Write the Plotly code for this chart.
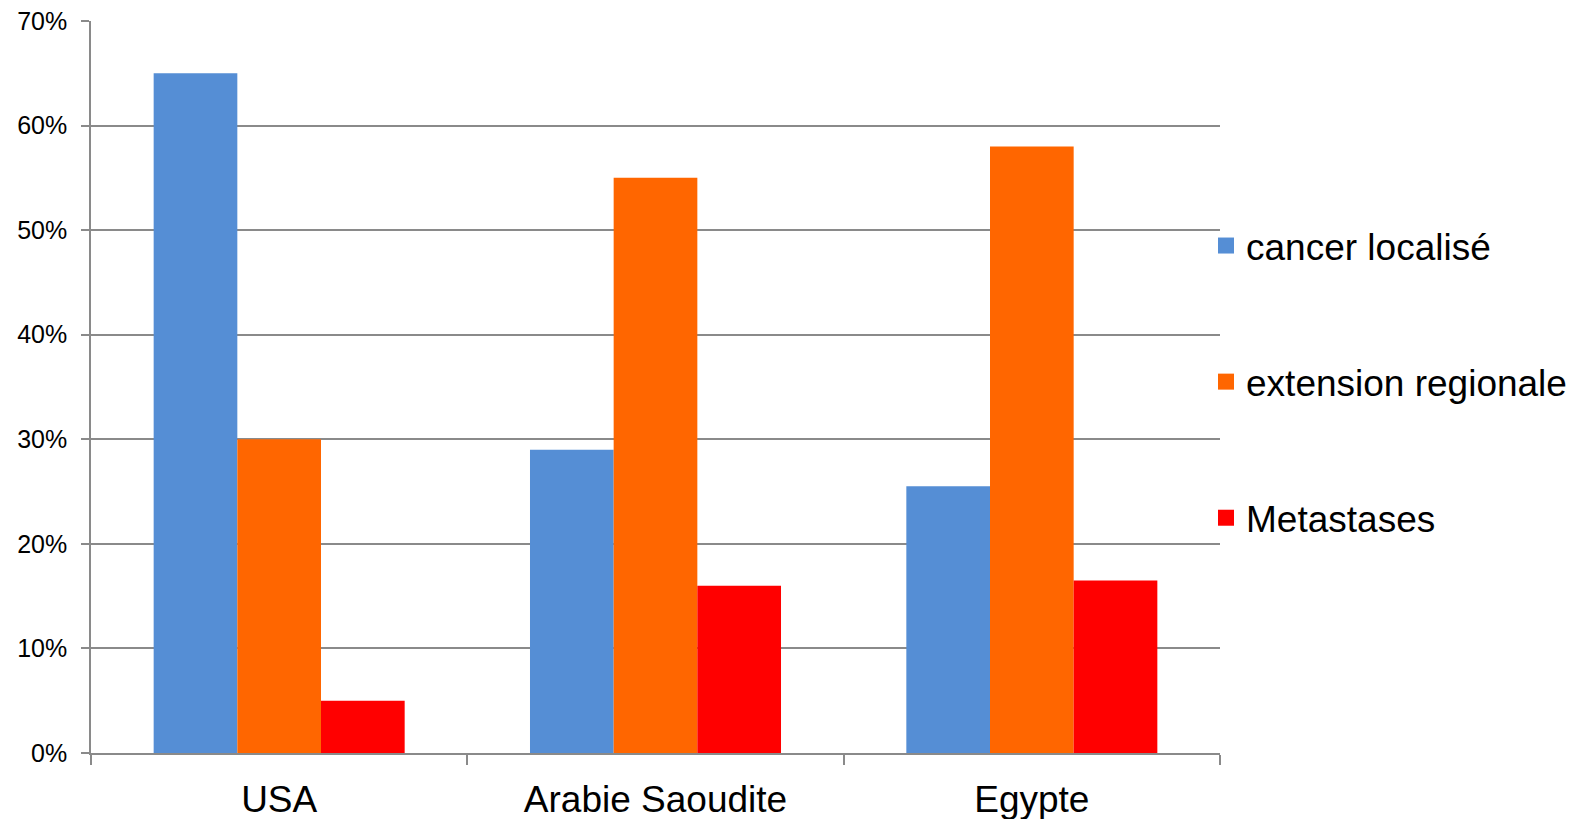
import plotly.graph_objects as go

categories = ["USA", "Arabie Saoudite", "Egypte"]
series_names = ["cancer localisé", "extension regionale", "Metastases"]
cancer_localise = [0.65, 0.29, 0.255]
extension_regionale = [0.30, 0.55, 0.58]
metastases = [0.05, 0.16, 0.165]
y_ticks = [0, 0.1, 0.2, 0.3, 0.4, 0.5, 0.6, 0.7]

colors = ["#558ED5", "#FF6600", "#FF0000"]
values = [cancer_localise, extension_regionale, metastases]

fig = go.Figure()
for i, (name, vals, col) in enumerate(zip(series_names, values, colors)):
    fig.add_trace(go.Bar(x=categories, y=vals, name=name, marker=dict(color=col, line=dict(width=0)),
                         showlegend=False))
    fig.add_trace(go.Scatter(x=[None], y=[None], mode="markers", name=name,
                             marker=dict(symbol="square", size=18, color=col),
                             legendgroup=f"g{i}", showlegend=True))

grid = "#8a8a8a"
fig.update_layout(
    width=1585, height=819,
    margin=dict(l=91, r=365, t=21, b=66, autoexpand=False),
    paper_bgcolor="white", plot_bgcolor="white",
    barmode="group", bargap=0.333, bargroupgap=0,
    font=dict(family="Liberation Sans, Arial, sans-serif", color="black"),
    legend=dict(xref="container", yref="container", x=0.7609, xanchor="left",
                y=0.5336, yanchor="middle",
                font=dict(size=37), tracegroupgap=85, traceorder="grouped",
                itemsizing="trace", bgcolor="rgba(0,0,0,0)"),
)
fig.update_xaxes(showline=True, linecolor=grid, linewidth=1.5, ticks="outside",
                 tickson="boundaries", ticklen=10, tickcolor=grid, tickwidth=1.5,
                 tickfont=dict(size=37), showgrid=False, ticklabelstandoff=13,
                 automargin=False)
fig.update_yaxes(range=[0, 0.7], tickvals=y_ticks, tickformat=".0%", showline=True,
                 linecolor=grid, linewidth=1.5, ticks="outside", ticklen=8, tickcolor=grid,
                 tickwidth=1.5, showgrid=True, gridcolor=grid, gridwidth=1.5,
                 tickfont=dict(size=25), zeroline=False, ticklabelstandoff=9,
                 automargin=False)

fig.write_html("out.html")
